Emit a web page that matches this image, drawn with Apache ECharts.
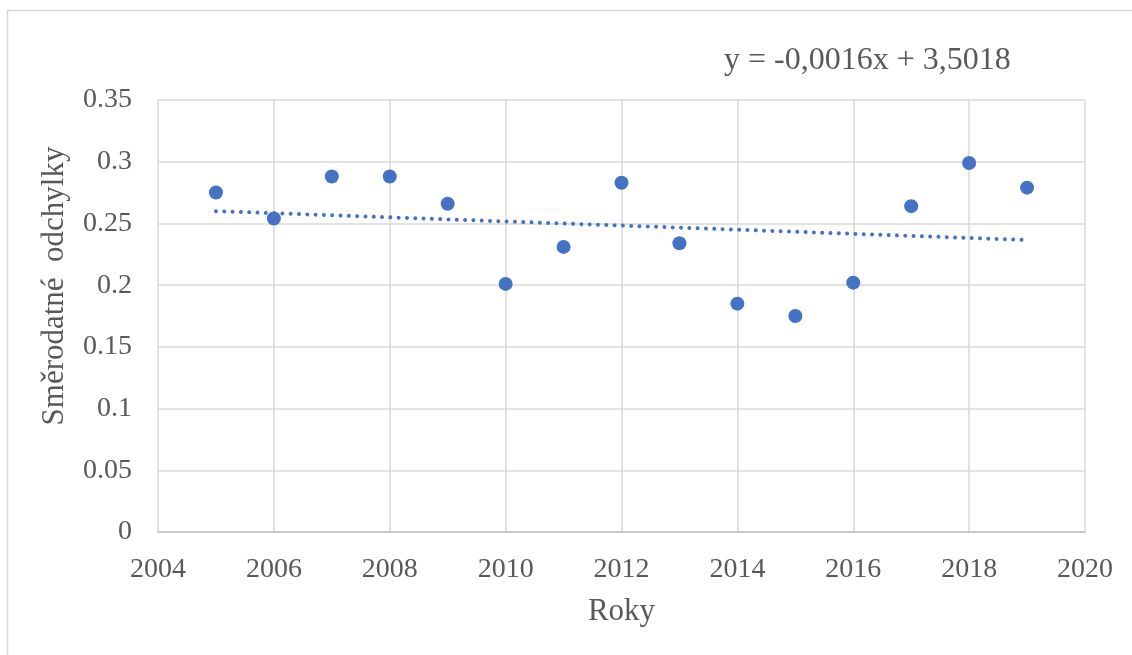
<!DOCTYPE html>
<html>
<head>
<meta charset="utf-8">
<script src="https://cdn.jsdelivr.net/npm/echarts@6/dist/echarts.min.js"></script>
<style>
  html, body { margin: 0; padding: 0; background: #fff; }
  #chart { width: 1132px; height: 655px; }
</style>
</head>
<body>
<div id="chart"></div>
<script>
// years and standard deviations
var years = [2005, 2006, 2007, 2008, 2009, 2010, 2011, 2012, 2013, 2014, 2015, 2016, 2017, 2018, 2019];
var odchylky = [0.275, 0.254, 0.288, 0.288, 0.266, 0.201, 0.231, 0.283, 0.234, 0.185, 0.175, 0.202, 0.264, 0.299, 0.279];
var rovnice = 'y = -0,0016x + 3,5018';
var nazevY = 'Směrodatné  odchylky';

var font = '"Liberation Serif", "Times New Roman", serif';
var textColor = '#595959';

// least squares trend line through the points
function trend(xs, ys) {
  var n = xs.length, mx = 0, my = 0;
  for (var i = 0; i < n; i++) { mx += xs[i]; my += ys[i]; }
  mx /= n; my /= n;
  var sxy = 0, sxx = 0;
  for (var j = 0; j < n; j++) {
    sxy += (xs[j] - mx) * (ys[j] - my);
    sxx += (xs[j] - mx) * (xs[j] - mx);
  }
  var k = sxy / sxx, q = my - k * mx;
  var first = xs[0], last = xs[n - 1];
  return [[first, k * first + q], [last, k * last + q]];
}

var points = years.map(function (y, i) { return [y, odchylky[i]]; });

var myChart = echarts.init(document.getElementById('chart'));
myChart.setOption({
  animation: false,
  grid: { left: 158, top: 100, right: 47, bottom: 123 },
  graphic: [
    {
      type: 'rect',
      shape: { x: 7.5, y: 10.5, width: 1300, height: 800 },
      style: { fill: 'none', stroke: '#d9d9d9', lineWidth: 1.5 },
      silent: true
    },
    {
      type: 'text',
      left: 724,
      top: 45,
      style: { text: rovnice, fontSize: 32, fontFamily: font, fill: textColor }
    },
    {
      // y axis title, rotated
      type: 'text',
      x: 55,
      y: 286,
      rotation: Math.PI / 2,
      style: {
        text: nazevY, fontSize: 31, fontFamily: font, fill: textColor,
        align: 'center', verticalAlign: 'middle'
      }
    }
  ],
  xAxis: {
    type: 'value',
    min: 2004,
    max: 2020,
    interval: 2,
    name: 'Roky',
    nameLocation: 'middle',
    nameGap: 64,
    nameTextStyle: { fontSize: 31, fontFamily: font, color: textColor },
    axisLine: { show: true, lineStyle: { color: '#bfbfbf', width: 1.5 } },
    axisTick: { show: false },
    axisLabel: {
      fontSize: 28, fontFamily: font, color: textColor, margin: 24,
      formatter: function (v) { return String(v); }
    },
    splitLine: { show: true, lineStyle: { color: '#d9d9d9', width: 1.5 } }
  },
  yAxis: {
    type: 'value',
    min: 0,
    max: 0.35,
    interval: 0.05,
    axisLine: { show: false },
    axisTick: { show: false },
    axisLabel: {
      fontSize: 28, fontFamily: font, color: textColor, margin: 26,
      formatter: function (v) { return String(Math.round(v * 100) / 100); }
    },
    splitLine: { show: true, lineStyle: { color: '#d9d9d9', width: 1.5 } }
  },
  series: [
    {
      type: 'line',
      data: trend(years, odchylky),
      symbol: 'none',
      silent: true,
      lineStyle: { color: '#4472C4', width: 4, type: [0.01, 8.3], cap: 'round' },
      z: 1
    },
    {
      type: 'scatter',
      data: points,
      symbol: 'circle',
      symbolSize: 14,
      itemStyle: { color: '#4472C4', opacity: 1 },
      z: 2
    }
  ]
});
</script>
</body>
</html>
